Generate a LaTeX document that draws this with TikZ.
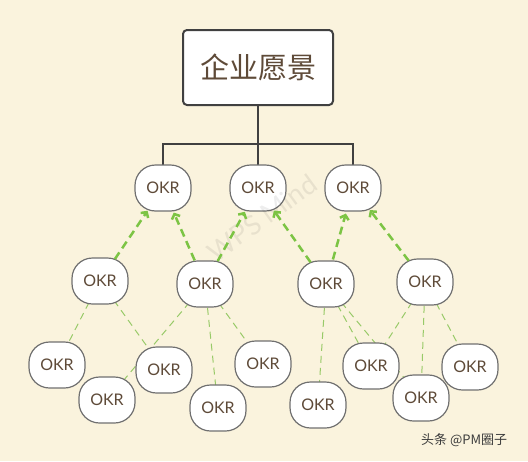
\documentclass[tikz,border=0pt]{standalone}
\usepackage{fontspec}
\setmainfont{Lato}
\newfontfamily\cjk{Noto Sans CJK SC}
\usetikzlibrary{shapes.geometric,arrows.meta,calc}
\definecolor{bg}{RGB}{250,243,221}
\definecolor{txtbrown}{RGB}{94,74,56}
\definecolor{boxline}{RGB}{64,64,64}
\definecolor{okrline}{RGB}{112,112,112}
\definecolor{gthick}{RGB}{124,196,68}
\definecolor{gthin}{RGB}{152,202,104}
\definecolor{markgray}{RGB}{60,60,60}
\pgfdeclarelayer{links}
\pgfdeclarelayer{boxes}
\pgfsetlayers{links,boxes,main}
\tikzset{
  okr/.style={shape=ellipse, minimum width=60pt, minimum height=50pt, inner sep=0pt,
    text=txtbrown, font=\fontsize{16}{18}\selectfont},
  okrbody/.style={draw=okrline, line width=1.2pt, fill=white, rounded corners=20.5pt},
  vision/.style={rectangle, draw=boxline, line width=2pt, rounded corners=4pt, fill=white,
    minimum width=150pt, minimum height=75pt, inner sep=0pt, text=txtbrown,
    font=\cjk\fontsize{29}{32}\selectfont},
  tree/.style={draw=boxline, line width=2.5pt},
  uparrow/.style={draw=gthick, line width=2.5pt, dash pattern=on 8pt off 5pt,
    -{Straight Barb[length=4pt,width=9pt]}, shorten >=1pt},
  thinlink/.style={draw=gthin, line width=1pt, dash pattern=on 7pt off 5pt},
}
\begin{document}
\begin{tikzpicture}[x=1pt,y=-1pt]
\begin{pgfonlayer}{links}
\fill[bg] (0,0) rectangle (528,461);
\end{pgfonlayer}
\useasboundingbox (0,0) rectangle (528,461);

% watermark
\node[rotate=36, text=black, opacity=0.07, font=\fontsize{27}{30}\selectfont] (wm) at (262,218) {WPS Mind};

% top box
\node[vision] (v) at (258,67.5) {企业愿景};

% OKR nodes
\node[okr] (a1) at (163,188) {OKR};
\node[okr] (a2) at (258,188) {OKR};
\node[okr] (a3) at (353,188) {OKR};
\node[okr] (b1) at (100,281) {OKR};
\node[okr] (b2) at (205,284) {OKR};
\node[okr] (b3) at (326,284) {OKR};
\node[okr] (b4) at (425,282) {OKR};
\node[okr] (c1) at (57,365) {OKR};
\node[okr] (c2) at (107,400) {OKR};
\node[okr] (c3) at (164,370) {OKR};
\node[okr] (c4) at (218,408) {OKR};
\node[okr] (c5) at (263,364) {OKR};
\node[okr] (c6) at (318,405) {OKR};
\node[okr] (c7) at (371,366) {OKR};
\node[okr] (c8) at (421,398) {OKR};
\node[okr] (c9) at (470,367) {OKR};

\begin{pgfonlayer}{boxes}
\foreach \n in {a1,a2,a3,b1,b2,b3,b4,c1,c2,c3,c4,c5,c6,c7,c8,c9}{
  \draw[okrbody] ([shift={(-28,-23)}]\n.center) rectangle ([shift={(28,23)}]\n.center);
}
\end{pgfonlayer}

% tree connectors
\coordinate (bus) at (258,144);
\begin{pgfonlayer}{links}
\draw[tree] (v.south) -- (bus);
\draw[tree] (bus) -| (a1.center);
\draw[tree] (bus) -| (a3.center);
\draw[tree] (bus) -- (a2.center);
% thin dashed links
\draw[thinlink] (b1.center) -- (c1.center);
\draw[thinlink] (b1.center) -- (c3.center);
\draw[thinlink] (b2.center) -- (c2.center);
\draw[thinlink] (b2.center) -- (c4.center);
\draw[thinlink] (b2.center) -- (c5.center);
\draw[thinlink] (b3.center) -- (c6.center);
\draw[thinlink] (b3.center) -- (c7.center);
\draw[thinlink] (b3.center) -- (c8.center);
\draw[thinlink] (b4.center) -- (c7.center);
\draw[thinlink] (b4.center) -- (c8.center);
\draw[thinlink] (b4.center) -- (c9.center);
\end{pgfonlayer}

% green upward arrows
\draw[uparrow] (b1) -- (a1);
\draw[uparrow] (b2) -- (a1);
\draw[uparrow] (b2) -- (a2);
\draw[uparrow] (b3) -- (a2);
\draw[uparrow] (b3) -- (a3);
\draw[uparrow] (b4) -- (a3);

% credit
\node[anchor=west, text=markgray, font=\cjk\fontsize{13}{15}\selectfont, inner sep=0pt] (credit) at (421,440) {头条 @PM圈子};
\end{tikzpicture}
\end{document}
